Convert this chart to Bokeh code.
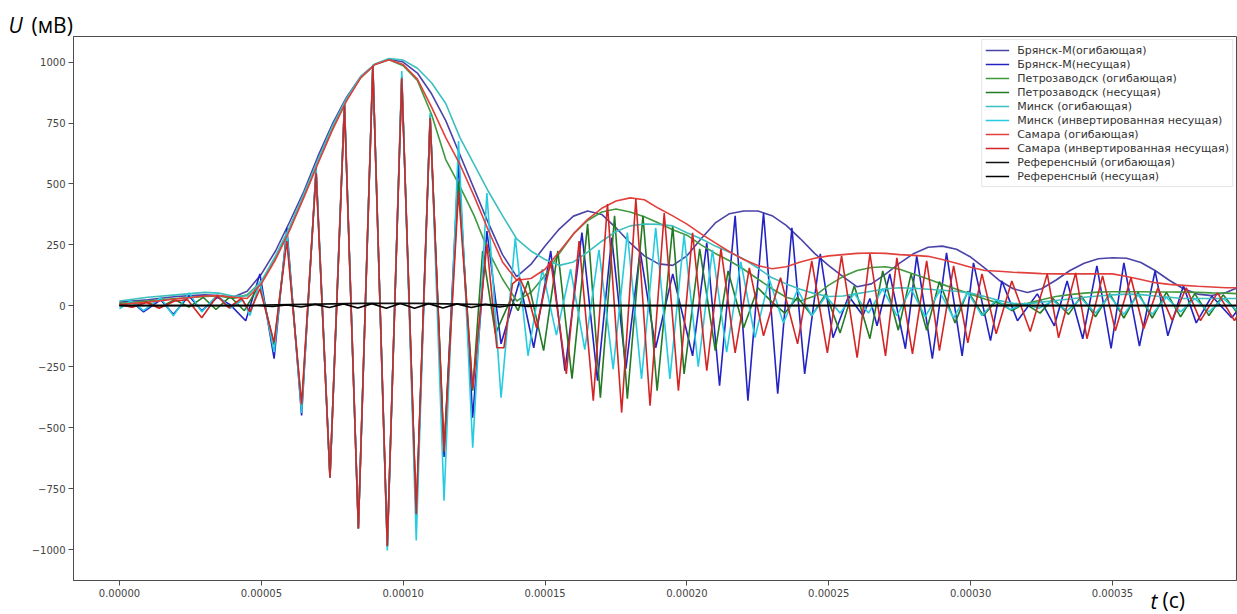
from bokeh.plotting import figure
from bokeh.models import Range1d, FixedTicker, PrintfTickFormatter, Title
from bokeh.embed import file_html
from bokeh.resources import INLINE

# time values are given in units of 10 microseconds
T_UNIT = 1e-5

ENV_T = [0, 1, 2, 3, 3.5, 4, 4.5, 5, 5.5, 6,
         6.5, 7, 7.5, 8, 8.5, 9, 9.5, 10, 10.5, 11,
         11.5, 12, 12.5, 13, 13.5, 14, 14.5, 15, 15.5, 16,
         16.5, 17, 17.5, 18, 18.5, 19, 19.5, 20, 20.5, 21,
         21.5, 22, 22.5, 23, 23.5, 24, 24.5, 25, 25.5, 26,
         26.5, 27, 27.5, 28, 28.5, 29, 29.5, 30, 30.5, 31,
         31.5, 32, 32.5, 33, 33.5, 34, 34.5, 35, 35.5, 36,
         36.5, 37, 37.5, 38, 38.5, 39, 39.4]

bry_env = [15, 25, 38, 45, 42, 35, 60, 130, 225, 345,
           470, 615, 745, 855, 940, 990, 1012, 1000, 955, 870,
           760, 620, 480, 340, 210, 120, 170, 245, 315, 368,
           389, 375, 320, 258, 205, 172, 166, 205, 275, 340,
           378, 389, 389, 370, 330, 275, 215, 165, 120, 78,
           90, 130, 175, 215, 240, 245, 232, 200, 155, 105,
           70, 55, 70, 105, 145, 175, 193, 197, 195, 178,
           145, 105, 70, 48, 42, 55, 74]

ptz_env = [10, 20, 30, 38, 40, 30, 45, 100, 195, 315,
           450, 590, 725, 845, 935, 990, 1010, 985, 925, 785,
           600, 490, 370, 225, 110, 20, 55, 125, 215, 295,
           350, 385, 397, 385, 365, 340, 312, 290, 250, 215,
           185, 150, 110, 70, 35, 20, 40, 85, 120, 145,
           157, 160, 150, 130, 110, 88, 68, 48, 28, 10,
           2, 10, 25, 38, 46, 52, 56, 58, 58, 58,
           57, 57, 56, 55, 53, 52, 50]

msk_env = [20, 35, 45, 55, 52, 40, 40, 100, 205, 325,
           460, 600, 735, 850, 940, 992, 1015, 1008, 975, 915,
           830, 690, 580, 470, 370, 275, 225, 190, 166, 180,
           220, 265, 305, 328, 336, 334, 328, 300, 275, 245,
           220, 192, 155, 115, 90, 68, 50, 38, 40, 50,
           60, 70, 74, 72, 68, 64, 60, 52, 38, 22,
           10, 8, 15, 22, 28, 35, 40, 45, 48, 46,
           40, 35, 30, 30, 30, 30, 30]

smr_env = [5, 15, 28, 40, 42, 35, 30, 90, 190, 310,
           445, 585, 720, 840, 935, 990, 1010, 990, 930, 815,
           690, 580, 450, 310, 180, 105, 112, 150, 222, 295,
           355, 400, 430, 443, 435, 400, 369, 335, 295, 258,
           222, 190, 165, 152, 160, 180, 195, 205, 210, 215,
           217, 215, 210, 207, 203, 190, 175, 158, 145, 142,
           138, 135, 132, 131, 131, 131, 131, 131, 120, 108,
           95, 88, 84, 80, 77, 74, 74]

ref_env_t = [0, 4.5, 5, 5.5, 6, 6.5, 7, 7.5, 8, 8.5, 9, 9.5, 10, 10.5, 11,
             11.5, 12, 12.5, 13, 13.5, 14, 14.5, 15, 39.4]
ref_env = [2, 2, 3, 4, 5, 6, 7, 8, 9, 10, 10, 10, 10, 10, 9,
           8, 7, 6, 5, 4, 3, 3, 2, 2]

bry_car_t = [0.0, 0.45, 0.85, 1.45, 1.9, 2.45, 2.9, 3.45, 3.9, 4.45,
             4.95, 5.45, 5.9, 6.42, 6.93, 7.42, 7.93, 8.42, 8.93, 9.44,
             9.95, 10.46, 10.95, 11.44, 11.95, 12.45, 12.95, 13.45, 14.1, 14.6,
             15.2, 15.7, 16.3, 16.85, 17.35, 17.85, 18.35, 18.9, 19.5, 20.2,
             20.7, 21.15, 21.7, 22.15, 22.7, 23.2, 23.7, 24.15, 24.7, 25.15,
             25.7, 26.2, 26.45, 26.7, 27.15, 27.7, 28.1, 28.65, 29.15, 29.7,
             30.1, 30.7, 31.1, 31.65, 32.35, 32.95, 33.4, 33.95, 34.45, 34.95,
             35.4, 35.95, 36.5, 36.95, 37.5, 37.95, 38.5, 39.2, 39.4]
bry_car = [0, 15, -25, 25, -35, 40, -20, 35, 5, -61,
           131, -217, 320, -450, 565, -705, 835, -914, 985, -985,
           940, -870, 780, -620, 594, -459, 307, -156, 102, -172,
           225, -266, 300, -307, 280, -258, 225, -172, 131, -205,
           258, -328, 369, -389, 381, -361, 320, -279, 213, -131,
           40, -40, 30, -82, 131, -176, 205, -217, 217, -205,
           176, -143, 102, -61, 49, -82, 102, -135, 164, -175,
           176, -165, 143, -123, 82, -70, 40, -49, -20]

ptz_car_t = [0.0, 0.45, 0.95, 1.4, 1.95, 2.45, 2.95, 3.4, 3.9, 4.4,
             4.95, 5.45, 5.9, 6.42, 6.93, 7.42, 7.93, 8.42, 8.93, 9.44,
             9.95, 10.46, 10.95, 11.44, 11.95, 12.45, 12.8, 13.25, 13.8, 14.05,
             14.4, 14.95, 15.45, 15.95, 16.5, 16.95, 17.45, 17.9, 18.45, 18.95,
             19.5, 19.9, 20.45, 21.0, 21.45, 22.0, 22.5, 23.0, 23.45, 23.9,
             24.4, 24.9, 25.4, 25.9, 26.45, 26.9, 27.45, 27.9, 28.45, 28.9,
             29.45, 29.9, 30.45, 30.9, 31.45, 31.9, 32.45, 32.9, 33.45, 33.9,
             34.4, 34.9, 35.4, 35.9, 36.4, 36.9, 37.4, 37.9, 38.4, 38.9,
             39.4]
ptz_car = [8, -5, 18, -8, 25, -5, 35, -15, 38, -20,
           90, -160, 290, -420, 550, -705, 825, -914, 985, -990,
           940, -860, 770, -590, 512, -348, 225, -115, 30, -20,
           102, -184, 225, -299, 336, -377, 369, -381, 369, -348,
           328, -279, 234, -184, 143, -90, 74, 15, -30, 35,
           -40, 50, -111, 82, -135, 143, -100, 130, -100, 100,
           -70, 60, -40, 20, -20, 10, -30, 30, -35, 40,
           -45, 50, -50, 55, -50, 55, -45, 50, -40, 45,
           -30]

msk_car_t = [0.0, 0.4, 0.85, 1.45, 1.9, 2.45, 2.9, 3.45, 3.9, 4.35,
             4.6, 4.95, 5.45, 5.9, 6.42, 6.93, 7.42, 7.93, 8.42, 8.93,
             9.44, 9.95, 10.46, 10.95, 11.44, 11.95, 12.45, 12.95, 13.45, 13.95,
             14.4, 14.9, 15.4, 15.9, 16.4, 16.9, 17.4, 17.9, 18.4, 18.9,
             19.4, 19.9, 20.4, 20.9, 21.4, 21.9, 22.4, 22.9, 23.4, 23.9,
             24.4, 24.9, 25.4, 25.9, 26.4, 26.9, 27.4, 27.9, 28.4, 28.9,
             29.4, 29.9, 30.4, 30.9, 31.4, 31.9, 32.4, 32.9, 33.4, 33.9,
             34.4, 34.9, 35.4, 35.9, 36.4, 36.9, 37.4, 37.9, 38.4, 38.9,
             39.4]
msk_car = [-12, 20, -20, 33, -41, 53, -25, 45, -10, 25,
           -40, 100, -190, 300, -440, 560, -705, 830, -914, 990,
           -1004, 963, -963, 791, -800, 676, -582, 463, -377, 279,
           -205, 150, -120, 150, -180, 230, -260, 300, -300, 320,
           -300, 290, -250, 230, -190, 180, -130, 110, -70, 65,
           -40, 40, -30, 50, -30, 70, -40, 70, -45, 60,
           -50, 55, -40, 25, -15, 8, -10, 20, -20, 30,
           -30, 40, -35, 45, -35, 35, -25, 30, -25, 30,
           -20]

smr_car_t = [0.0, 0.45, 0.95, 1.4, 1.95, 2.4, 2.9, 3.45, 3.85, 4.3,
             4.6, 4.95, 5.45, 5.9, 6.42, 6.93, 7.42, 7.93, 8.42, 8.93,
             9.44, 9.95, 10.46, 10.95, 11.44, 11.95, 12.45, 12.95, 13.3, 13.55,
             13.85, 14.1, 14.4, 14.7, 15.2, 15.75, 16.2, 16.7, 17.2, 17.7,
             18.2, 18.7, 19.2, 19.7, 20.2, 20.7, 21.2, 21.7, 22.2, 22.7,
             23.3, 23.9, 24.4, 24.95, 25.45, 26.0, 26.45, 27.0, 27.4, 27.95,
             28.45, 28.9, 29.4, 29.9, 30.4, 30.9, 31.45, 32.1, 32.7, 33.1,
             33.7, 34.1, 34.65, 35.1, 35.65, 36.1, 36.6, 37.1, 37.6, 38.1,
             38.7, 39.3, 39.4]
smr_car = [5, -6, 14, -10, 20, 25, -49, 41, -8, 30,
           -25, 70, -150, 266, -405, 545, -705, 820, -914, 985,
           -985, 934, -855, 770, -600, 470, -340, 254, -172, -172,
           90, 115, 40, -90, 184, -279, 266, -389, 418, -438,
           438, -410, 381, -348, 299, -266, 234, -193, 156, -123,
           115, -156, 184, -193, 205, -213, 213, -205, 197, -197,
           184, -184, 164, -152, 131, -115, 102, -105, 131, -131,
           135, -135, 123, -102, 115, -94, 74, -60, 74, -61,
           53, -61, -40]

ref_car_t = [0, 4.9, 5.4, 5.9, 6.4, 6.9, 7.4, 7.9, 8.4, 8.9, 9.4, 9.9, 10.4,
             10.9, 11.4, 11.9, 12.4, 12.9, 13.4, 13.9, 14.4, 14.9, 15.4, 16.5, 39.4]
ref_car = [0, 0, -3, 4, -5, 6, -7, 8, -9, 9, -10, 10, -10,
           9, -9, 8, -7, 6, -5, 4, -3, 2, -1, 0, 0]

X_TICKS = [0.0, 0.00005, 0.00010, 0.00015, 0.00020, 0.00025, 0.00030, 0.00035]
Y_TICKS = [-1000, -750, -500, -250, 0, 250, 500, 750, 1000]

series = [
    ("Брянск-М(огибающая)", ENV_T, bry_env, "#4a43a8"),
    ("Брянск-М(несущая)", bry_car_t, bry_car, "#2323c4"),
    ("Петрозаводск (огибающая)", ENV_T, ptz_env, "#3f9a3f"),
    ("Петрозаводск (несущая)", ptz_car_t, ptz_car, "#247a24"),
    ("Минск (огибающая)", ENV_T, msk_env, "#3cbfbf"),
    ("Минск (инвертированная несущая)", msk_car_t, msk_car, "#27cbe0"),
    ("Самара (огибающая)", ENV_T, smr_env, "#e2403c"),
    ("Самара (инвертированная несущая)", smr_car_t, smr_car, "#d42525"),
    ("Референсный (огибающая)", ref_env_t, ref_env, "#111111"),
    ("Референсный (несущая)", ref_car_t, ref_car, "#000000"),
]

X0, X1 = -1.62e-5, 3.937e-4
Y0, Y1 = -1127, 1105

p = figure(width=1237, height=614, output_backend="svg", toolbar_location=None,
           x_range=Range1d(X0, X1), y_range=Range1d(Y0, Y1),
           min_border_left=73, min_border_right=1, min_border_top=36,
           min_border_bottom=34, background_fill_color="white",
           border_fill_color="white")
p.title.visible = False
p.grid.visible = False
p.outline_line_color = "#4d4d4d"
p.outline_line_width = 1

for name, t, v, col in series:
    p.line([u * T_UNIT for u in t], v, line_color=col, line_width=1.6,
           legend_label=name)

for ax in (p.xaxis[0], p.yaxis[0]):
    ax.axis_line_color = "#4d4d4d"
    ax.major_tick_line_color = "#4d4d4d"
    ax.major_tick_out = 5
    ax.major_tick_in = 0
    ax.minor_tick_line_color = None
    ax.major_label_text_font = "DejaVu Sans"
    ax.major_label_text_font_size = "10px"
    ax.major_label_text_color = "#444444"
    ax.major_label_standoff = 3

p.xaxis.ticker = FixedTicker(ticks=X_TICKS)
p.xaxis.formatter = PrintfTickFormatter(format="%.5f")
p.yaxis.ticker = FixedTicker(ticks=Y_TICKS)
p.yaxis.major_label_overrides = {t: ("\u2212" + str(-t) if t < 0 else str(t)) for t in Y_TICKS}

leg = p.legend[0]
leg.location = "top_right"
leg.margin = 3
leg.padding = 3
leg.spacing = 0
leg.glyph_width = 24
leg.glyph_height = 14
leg.label_height = 14
leg.label_standoff = 8
leg.label_text_font = "DejaVu Sans"
leg.label_text_font_size = "11px"
leg.label_text_color = "#333333"
leg.border_line_color = "#d0d0d0"
leg.background_fill_alpha = 0.85

# axis captions as side-panel titles (not clipped by the frame)
cap = dict(text_font="Open Sans", text_font_size="21px", text_color="black", align="left")
p.add_layout(Title(text="U", text_font_style="italic", offset=-65, standoff=-4,
                   vertical_align="bottom", **cap), "above")
p.add_layout(Title(text="(мВ)", text_font_style="normal", offset=-42, standoff=-57,
                   vertical_align="bottom", **cap), "above")
p.add_layout(Title(text="t", text_font_style="italic", offset=1077, standoff=-26,
                   vertical_align="top", **cap), "below")
p.add_layout(Title(text="(с)", text_font_style="normal", offset=1089, standoff=-35,
                   vertical_align="top", **cap), "below")

open("out.html", "w").write(file_html(p, INLINE))
